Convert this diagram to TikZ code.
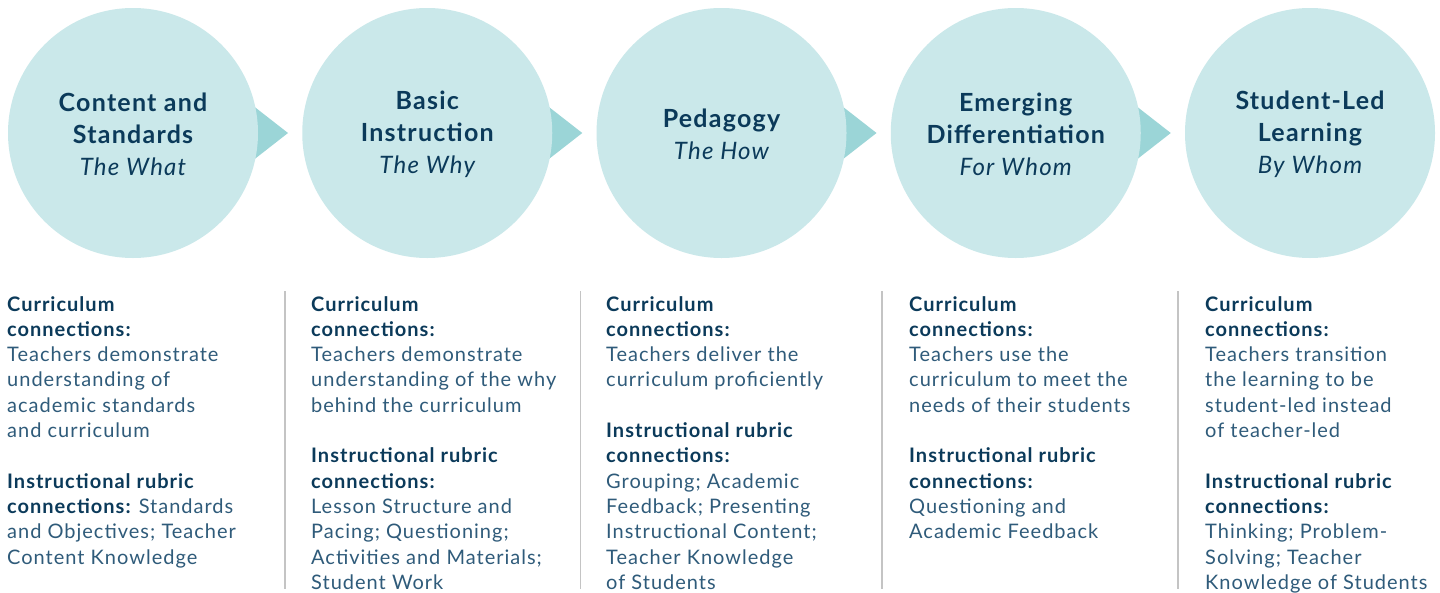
\documentclass[tikz,border=0pt]{standalone}
\usepackage{fontspec}
\setmainfont{Lato}[LetterSpace=5]
\usetikzlibrary{calc}
\definecolor{navy}{HTML}{0B3A5A}
\definecolor{bodyc}{HTML}{2F5B7A}
\definecolor{circfill}{HTML}{CAE8EA}
\definecolor{trifill}{HTML}{9BD5D7}
\definecolor{divc}{HTML}{C4C4C4}
\tikzset{
  circ/.style={circle, minimum size=250pt, inner sep=0pt, fill=circfill, draw=none},
  tri/.style={fill=trifill},
  title/.style={align=center, inner sep=0pt, text=navy, font=\fontsize{25}{32}\selectfont\bfseries},
  body/.style={anchor=north west, align=left, inner sep=0pt, text=bodyc, font=\fontsize{20}{25.3}\selectfont},
  divider/.style={draw=divc, line width=1.6pt},
}
\newcommand{\hd}[1]{{\bfseries\color{navy}#1}}
\newcommand{\sub}[1]{{\mdseries\itshape\fontsize{24}{32}\selectfont #1}}
\begin{document}
\begin{tikzpicture}[x=1pt,y=-1pt]
\fill[white] (0,0) rectangle (1440,592);
\useasboundingbox (0,0) rectangle (1440,592);
% triangles (drawn beneath circles)
\foreach \cx in {133,427.25,721.5,1015.75}{
  \fill[tri] (\cx+105,94) -- (\cx+155,133) -- (\cx+105,172) -- cycle;
}
\node[circ] (c1) at (133,133) {};
\node[circ] (c2) at (427.25,133) {};
\node[circ] (c3) at (721.5,133) {};
\node[circ] (c4) at (1015.75,133) {};
\node[circ] (c5) at (1310,133) {};
\node[title] (t1) at ($(c1.center)+(0,1)$) {Content and\\Standards\\\sub{The What}};
\node[title] (t2) at ($(c2.center)+(0,1)$) {Basic\\Instruction\\\sub{The Why}};
\node[title] (t3) at ($(c3.center)+(0,1)$) {Pedagogy\\\sub{The How}};
\node[title] (t4) at ($(c4.center)+(0,1)$) {Emerging\\Differentiation\\\sub{For Whom}};
\node[title] (t5) at ($(c5.center)+(0,1)$) {Student-Led\\Learning\\\sub{By Whom}};
% dividers
\coordinate (d1a) at (285,291); \coordinate (d1b) at (285,589);
\coordinate (d2a) at (580.5,291); \coordinate (d2b) at (580.5,589);
\coordinate (d3a) at (882,291); \coordinate (d3b) at (882,589);
\coordinate (d4a) at (1178,291); \coordinate (d4b) at (1178,589);
\draw[divider] (d1a) -- (d1b);
\draw[divider] (d2a) -- (d2b);
\draw[divider] (d3a) -- (d3b);
\draw[divider] (d4a) -- (d4b);
% body text
\node[body] (b1) at (7,296) {\hd{Curriculum}\\\hd{connections:}\\Teachers demonstrate\\understanding of\\academic standards\\and curriculum\\[25.3pt]\hd{Instructional rubric}\\\hd{connections:} Standards\\and Objectives; Teacher\\Content Knowledge};
\node[body] (b2) at (311,296) {\hd{Curriculum}\\\hd{connections:}\\Teachers demonstrate\\understanding of the why\\behind the curriculum\\[25.3pt]\hd{Instructional rubric}\\\hd{connections:}\\Lesson Structure and\\Pacing; Questioning;\\Activities and Materials;\\Student Work};
\node[body] (b3) at (606,296) {\hd{Curriculum}\\\hd{connections:}\\Teachers deliver the\\curriculum proficiently\\[25.3pt]\hd{Instructional rubric}\\\hd{connections:}\\Grouping; Academic\\Feedback; Presenting\\Instructional Content;\\Teacher Knowledge\\of Students};
\node[body] (b4) at (909,296) {\hd{Curriculum}\\\hd{connections:}\\Teachers use the\\curriculum to meet the\\needs of their students\\[25.3pt]\hd{Instructional rubric}\\\hd{connections:}\\Questioning and\\Academic Feedback};
\node[body] (b5) at (1205,296) {\hd{Curriculum}\\\hd{connections:}\\Teachers transition\\the learning to be\\student-led instead\\of teacher-led\\[25.3pt]\hd{Instructional rubric}\\\hd{connections:}\\Thinking; Problem-\\Solving; Teacher\\Knowledge of Students};
\end{tikzpicture}
\end{document}
